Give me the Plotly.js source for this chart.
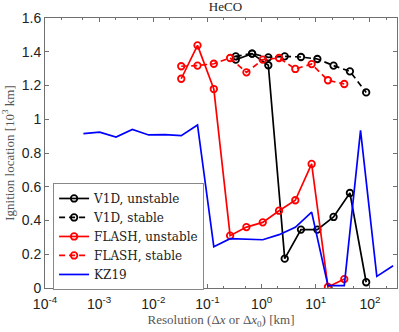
<!DOCTYPE html>
<html>
<head>
<meta charset="utf-8">
<script src="https://cdn.plot.ly/plotly-3.0.1.min.js"></script>
<style>
  html, body { margin: 0; padding: 0; background: #fff; }
  #chart { width: 399px; height: 332px; }
</style>
</head>
<body>
<div id="chart"></div>
<script>
// resolutions [km] and ignition locations [10^3 km]
const v1dRes = [0.333, 0.667, 1.33, 2.67, 5.33, 10.7, 21.3, 42.7, 85.3];
const v1dUnstable = [1.353, 1.389, 1.32, 0.174, 0.346, 0.346, 0.421, 0.563, 0.034];
const v1dStable = [1.373, 1.389, 1.367, 1.373, 1.369, 1.357, 1.318, 1.284, 1.159];

const flashRes = [0.0328, 0.0655, 0.131, 0.262, 0.524, 1.05, 2.1, 4.19, 8.39, 16.8, 33.6];
const flashUnstable = [1.24, 1.438, 1.179, 0.31, 0.361, 0.389, 0.458, 0.52, 0.735, 0.006, 0.053];
const flashStable = [1.314, 1.318, 1.329, 1.363, 1.278, 1.353, 1.363, 1.298, 1.327, 1.231, 1.209];

const kzRes = [5.12e-4, 1.02e-3, 2.05e-3, 4.1e-3, 8.2e-3, 0.0164, 0.0328, 0.0655, 0.131, 0.262,
               1.05, 2.1, 4.19, 8.39, 16.8, 33.6, 67.1, 134, 268];
const kzLoc = [0.915, 0.924, 0.895, 0.940, 0.907, 0.909, 0.903, 0.966, 0.245, 0.292,
               0.286, 0.316, 0.36, 0.45, 0.014, 0.014, 0.934, 0.069, 0.132];

const xTickVals = [1e-4, 1e-3, 1e-2, 1e-1, 1, 10, 100];
const xTickText = ["10<sup>-4</sup>", "10<sup>-3</sup>", "10<sup>-2</sup>", "10<sup>-1</sup>",
                   "10<sup>0</sup>", "10<sup>1</sup>", "10<sup>2</sup>"];

const serif = "Liberation Serif, DejaVu Serif, serif";
const sans = "Liberation Sans, Arial, sans-serif";

function series(name, x, y, color, dash, withMarkers) {
  return {
    x: x, y: y, name: name,
    type: "scatter",
    mode: withMarkers ? "lines+markers" : "lines",
    line: { color: color, width: 1.7, dash: dash },
    marker: { symbol: "circle-open", size: 6.5, color: color, line: { width: 1.8, color: color } }
  };
}

const traces = [
  series("V1D, unstable", v1dRes, v1dUnstable, "#000000", "solid", true),
  series("V1D, stable", v1dRes, v1dStable, "#000000", "6px,4px", true),
  series("FLASH, unstable", flashRes, flashUnstable, "#ff0000", "solid", true),
  series("FLASH, stable", flashRes, flashStable, "#ff0000", "6px,4px", true),
  series("KZ19", kzRes, kzLoc, "#0000ff", "solid", false)
];

const axisColor = "#707070";

const layout = {
  width: 399, height: 332,
  margin: { l: 45, r: 2, t: 18, b: 44 },
  paper_bgcolor: "#fff",
  plot_bgcolor: "#fff",
  showlegend: true,
  title: {
    text: "HeCO",
    font: { family: serif, size: 13, color: "#222" },
    x: 0.565, xanchor: "center", y: 0.98, yanchor: "middle"
  },
  xaxis: {
    type: "log",
    range: [-4, 2.5],
    tickvals: xTickVals,
    ticktext: xTickText,
    ticks: "inside", ticklen: 4, tickcolor: axisColor,
    minor: { ticks: "inside", ticklen: 2, tickcolor: axisColor },
    ticklabelstandoff: 3,
    showgrid: false, zeroline: false,
    showline: true, linecolor: axisColor, linewidth: 1, mirror: "ticks",
    tickfont: { family: sans, size: 14, color: "#222" },
    title: {
      text: "Resolution (Δ<i>x</i> or Δ<i>x</i><sub>0</sub>) [km]",
      font: { family: serif, size: 13, color: "#555" },
      standoff: 2
    }
  },
  yaxis: {
    range: [0, 1.6],
    dtick: 0.2,
    ticks: "inside", ticklen: 4, tickcolor: axisColor,
    showgrid: false, zeroline: false,
    showline: true, linecolor: axisColor, linewidth: 1, mirror: "ticks",
    tickfont: { family: sans, size: 14, color: "#222" },
    title: {
      text: "Ignition location [10<sup>3</sup> km]",
      font: { family: serif, size: 13, color: "#555" },
      standoff: 4
    }
  },
  legend: {
    x: 0.023, y: 0.389, xanchor: "left", yanchor: "top",
    bgcolor: "#fff", bordercolor: "#888", borderwidth: 1,
    font: { family: "DejaVu Serif, serif", size: 12, color: "#222" },
    tracegroupgap: 0
  }
};

Plotly.newPlot("chart", traces, layout, { displayModeBar: false, staticPlot: true });
</script>
</body>
</html>
